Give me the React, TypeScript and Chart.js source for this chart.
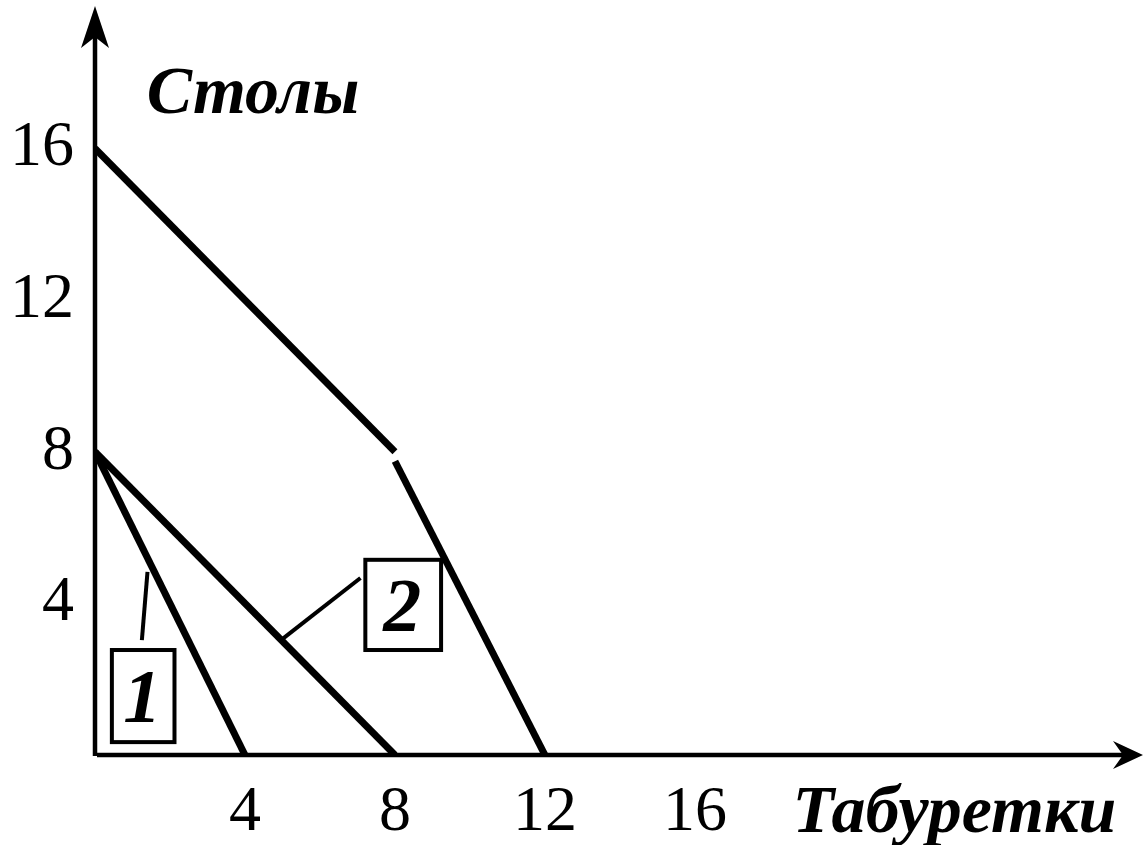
import React, { useEffect, useRef } from "react";
import { Chart, registerables } from "chart.js";

Chart.register(...registerables);

// ---- data ----
const xTicks = [4, 8, 12, 16];
const yTicks = [4, 8, 12, 16];
const line1X = [0, 4];
const line1Y = [8, 0];
const line2X = [0, 8];
const line2Y = [8, 0];
const line3UpperX = [0, 8];
const line3UpperY = [16, 8];
const line3LowerX = [8, 12];
const line3LowerY = [7.75, 0];
const xTitle = "Табуретки";
const yTitle = "Столы";
const curveLabels = ["1", "2"];

const toPts = (xs: number[], ys: number[]) => xs.map((x, i) => ({ x, y: ys[i] }));

const SERIF = '"Liberation Serif", "Times New Roman", serif';

const decorPlugin = {
  id: "decor",
  afterDraw(chart: any) {
    const { ctx, chartArea, scales } = chart;
    const xs = scales.x;
    const ys = scales.y;
    const px = (v: number) => xs.getPixelForValue(v);
    const py = (v: number) => ys.getPixelForValue(v);
    const x0 = px(0);
    const y0 = py(0);
    ctx.save();
    ctx.fillStyle = "#000";
    ctx.strokeStyle = "#000";
    ctx.lineCap = "butt";

    // axes
    ctx.lineWidth = 4.5;
    ctx.beginPath();
    ctx.moveTo(x0, y0 + 1);
    ctx.lineTo(x0, chartArea.top + 30);
    ctx.stroke();
    ctx.beginPath();
    ctx.moveTo(x0 + 2, y0);
    ctx.lineTo(chartArea.right - 20, y0);
    ctx.stroke();

    // y arrow
    const ty = chartArea.top + 6;
    ctx.beginPath();
    ctx.moveTo(x0, ty);
    ctx.lineTo(x0 - 14, ty + 42);
    ctx.lineTo(x0, ty + 31);
    ctx.lineTo(x0 + 14, ty + 42);
    ctx.closePath();
    ctx.fill();
    // x arrow
    const tx = chartArea.right;
    ctx.beginPath();
    ctx.moveTo(tx, y0);
    ctx.lineTo(tx - 30, y0 - 14);
    ctx.lineTo(tx - 20, y0);
    ctx.lineTo(tx - 30, y0 + 14);
    ctx.closePath();
    ctx.fill();

    // titles
    ctx.font = `italic bold 68px ${SERIF}`;
    ctx.textAlign = "left";
    ctx.textBaseline = "alphabetic";
    ctx.fillText(yTitle, px(1.38), py(16.94));
    ctx.fillText(xTitle, px(18.6), py(-2.03));

    // leader lines
    ctx.lineWidth = 4;
    ctx.beginPath();
    ctx.moveTo(px(1.25), py(3.03));
    ctx.lineTo(px(1.4), py(4.83));
    ctx.stroke();
    ctx.beginPath();
    ctx.moveTo(px(4.96), py(3.03));
    ctx.lineTo(px(7.08), py(4.67));
    ctx.stroke();

    // boxes
    const drawBox = (xa: number, xb: number, ya: number, yb: number, t: string) => {
      const l = px(xa), r = px(xb), tp = py(ya), bt = py(yb);
      ctx.lineWidth = 4;
      ctx.strokeRect(l, tp, r - l, bt - tp);
      ctx.font = `italic bold 76px ${SERIF}`;
      ctx.textAlign = "center";
      ctx.textBaseline = "alphabetic";
      ctx.fillText(t, (l + r) / 2 - 1, (tp + bt) / 2 + 26);
    };
    drawBox(0.45, 2.12, 2.77, 0.34, curveLabels[0]);
    drawBox(7.21, 9.23, 5.15, 2.77, curveLabels[1]);

    ctx.restore();
  },
};

export default function App() {
  const ref = useRef<HTMLCanvasElement | null>(null);
  useEffect(() => {
    if (!ref.current) return;
    const lineStyle = {
      borderColor: "#000",
      borderWidth: 7,
      pointRadius: 0,
      showLine: true,
      fill: false,
      tension: 0,
      borderCapStyle: "butt" as const,
      borderJoinStyle: "miter" as const,
    };
    const chart = new Chart(ref.current, {
      type: "scatter",
      data: {
        datasets: [
          { label: "1", data: toPts(line1X, line1Y), ...lineStyle },
          { label: "2", data: toPts(line2X, line2Y), ...lineStyle },
          { label: "3a", data: toPts(line3UpperX, line3UpperY), ...lineStyle },
          { label: "3b", data: toPts(line3LowerX, line3LowerY), ...lineStyle },
        ],
      },
      options: {
        animation: false,
        responsive: true,
        maintainAspectRatio: false,
        layout: { padding: 0 },
        plugins: { legend: { display: false }, tooltip: { enabled: false }, title: { display: false } },
        scales: {
          x: {
            type: "linear",
            min: 0,
            max: 27.95,
            grid: { display: false, drawTicks: false },
            border: { display: false },
            afterBuildTicks: (s: any) => {
              s.ticks = xTicks.map((v) => ({ value: v }));
            },
            afterFit: (s: any) => {
              s.height = 90;
              s.paddingLeft = 0;
              s.paddingRight = 0;
            },
            ticks: {
              autoSkip: false,
              maxRotation: 0,
              minRotation: 0,
              padding: 20,
              color: "#000",
              font: { family: SERIF, size: 64 },
              callback: (v: any) => String(v),
            },
          },
          y: {
            type: "linear",
            min: 0,
            max: 19.92,
            grid: { display: false, drawTicks: false },
            border: { display: false },
            afterBuildTicks: (s: any) => {
              s.ticks = yTicks.map((v) => ({ value: v }));
            },
            afterFit: (s: any) => {
              s.width = 95;
              s.paddingTop = 0;
              s.paddingBottom = 0;
            },
            ticks: {
              autoSkip: false,
              padding: 21,
              color: "#000",
              font: { family: SERIF, size: 64 },
              callback: (v: any) => String(v),
            },
          },
        },
      },
      plugins: [decorPlugin],
    });
    return () => chart.destroy();
  }, []);
  return (
    <div style={{ position: "absolute", left: 0, top: 0, width: 1143, height: 845, background: "#fff" }}>
      <canvas ref={ref} />
    </div>
  );
}
